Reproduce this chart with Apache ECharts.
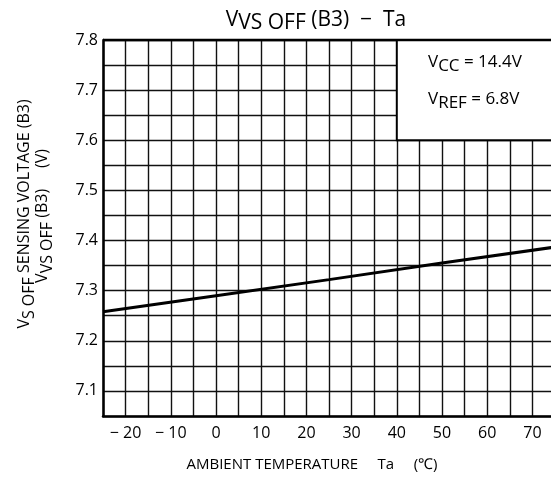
<!DOCTYPE html>
<html>
<head>
<meta charset="utf-8">
<script src="https://cdn.jsdelivr.net/npm/echarts@6/dist/echarts.min.js"></script>
<style>
  html, body { margin: 0; padding: 0; background: #fff; }
  #chart { width: 551px; height: 483px; }
</style>
</head>
<body>
<div id="chart"></div>
<script>
// ambient temperature (°C) vs VS OFF sensing voltage (V)
var temps = [-25, 0, 25, 50, 75];
var volts = [7.258, 7.290, 7.322, 7.355, 7.387];
var xLabels = [-20, -10, 0, 10, 20, 30, 40, 50, 60, 70];
var yLabels = [7.1, 7.2, 7.3, 7.4, 7.5, 7.6, 7.7, 7.8];

var font = 'Open Sans';
var chart = echarts.init(document.getElementById('chart'));

function fmtX(v) {
  if (xLabels.indexOf(v) < 0) return '';
  return v < 0 ? '\u2212 ' + Math.abs(v) : String(v);
}
function fmtY(v) {
  var r = Math.round(v * 100) / 100;
  return yLabels.indexOf(r) < 0 ? '' : r.toFixed(1);
}

chart.setOption({
  animation: false,
  grid: { left: 103, right: -4, top: 40, bottom: 67, outerBoundsMode: 'none', containLabel: false },
  title: {
    text: 'V{s|VS OFF} (B3)  \u2212  Ta',
    left: 311, top: 1, textAlign: 'center',
    textStyle: {
      fontFamily: font, fontSize: 21, fontWeight: 'normal', color: '#000',
      rich: { s: { fontFamily: font, fontSize: 21, color: '#000', padding: [7, 0, 0, 0] } }
    }
  },
  xAxis: {
    type: 'value', min: -25, max: 75, interval: 5,
    axisLine: { show: true, onZero: false, lineStyle: { color: '#000', width: 2.5 } },
    axisTick: { show: false },
    axisLabel: { formatter: fmtX, fontFamily: font, fontSize: 16, color: '#000', margin: 9 },
    splitLine: { show: true, lineStyle: { color: '#111', width: 1.4 } }
  },
  yAxis: {
    type: 'value', min: 7.05, max: 7.8, interval: 0.05,
    axisLine: { show: true, onZero: false, lineStyle: { color: '#000', width: 2.5 } },
    axisTick: { show: false },
    axisLabel: { formatter: fmtY, fontFamily: font, fontSize: 16, color: '#000', margin: 5 },
    splitLine: { show: true, lineStyle: { color: '#111', width: 1.4 } }
  },
  graphic: [
    {
      type: 'line', shape: { x1: 103, y1: 40, x2: 551, y2: 40 },
      style: { stroke: '#000', lineWidth: 2.5 }, z: 50
    },
    {
      type: 'text', left: 428, top: 54, z: 60,
      style: {
        text: 'V{s|CC} = 14.4V', fontFamily: font, fontSize: 17, fill: '#000',
        rich: { s: { fontFamily: font, fontSize: 17, padding: [7, 0, 0, 0] } }
      }
    },
    {
      type: 'text', left: 428, top: 91, z: 60,
      style: {
        text: 'V{s|REF} = 6.8V', fontFamily: font, fontSize: 17, fill: '#000',
        rich: { s: { fontFamily: font, fontSize: 17, padding: [7, 0, 0, 0] } }
      }
    },
    {
      type: 'text', x: 312, y: 457, z: 60,
      style: {
        text: 'AMBIENT TEMPERATURE     Ta     (\u2103)', fontFamily: font, fontSize: 15,
        fill: '#000', align: 'center'
      }
    },
    {
      type: 'text', x: 12, y: 214, rotation: Math.PI / 2, z: 60,
      style: {
        text: 'V{s|S OFF} SENSING VOLTAGE (B3)', fontFamily: font, fontSize: 16,
        fill: '#000', align: 'center',
        rich: { s: { fontFamily: font, fontSize: 16, padding: [9, 0, 0, 0] } }
      }
    },
    {
      type: 'text', x: 30, y: 216, rotation: Math.PI / 2, z: 60,
      style: {
        text: 'V{s|VS OFF} (B3)     (V)', fontFamily: font, fontSize: 16,
        fill: '#000', align: 'center',
        rich: { s: { fontFamily: font, fontSize: 16, padding: [9, 0, 0, 0] } }
      }
    }
  ],
  series: [{
    type: 'line',
    data: temps.map(function (t, i) { return [t, volts[i]]; }),
    symbol: 'none',
    lineStyle: { color: '#000', width: 3 },
    markArea: {
      silent: true,
      itemStyle: { color: '#fff', borderColor: '#000', borderWidth: 2 },
      data: [[{ coord: [40, 7.6] }, { coord: [75, 7.8] }]]
    }
  }]
});
</script>
</body>
</html>
